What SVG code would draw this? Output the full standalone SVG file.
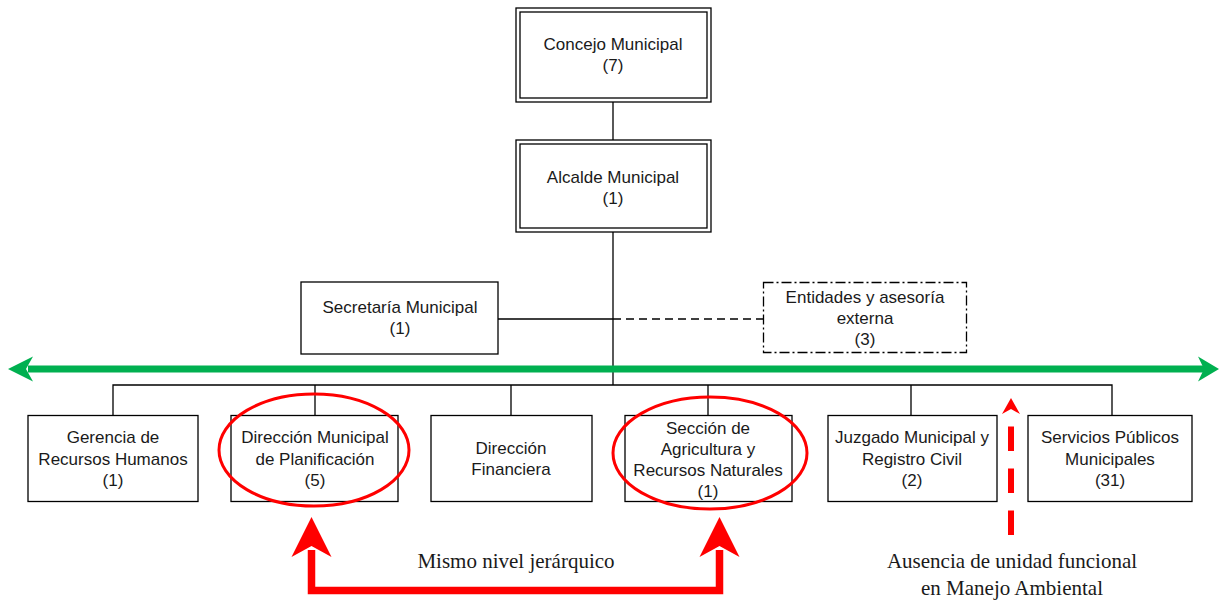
<svg xmlns="http://www.w3.org/2000/svg" width="1220" height="604" viewBox="0 0 1220 604">
<style>
.box{fill:#fff;stroke:#000;stroke-width:1.3}
.t{font-family:"Liberation Sans",Arial,sans-serif;font-size:17px;fill:#1a1a1a;text-anchor:middle}
.s{font-family:"Liberation Serif","Times New Roman",serif;font-size:21px;fill:#1a1a1a;text-anchor:middle}
.ln{stroke:#000;stroke-width:1.3;fill:none}
</style>
<rect width="1220" height="604" fill="#fff"/>
<g id="connectors">
<path class="ln" d="M613,102V140M613,232V385M113,415V385H1112V415M315,385V415M511,385V415M708,385V415M911,385V415M498,319H613"/>
<path class="ln" d="M613,319H763" stroke-dasharray="8 5"/>
</g>
<g id="concejo">
<rect class="box" x="516" y="8" width="195" height="94"/>
<rect class="box" x="520" y="12" width="187" height="86"/>
<text class="t" x="613" y="50">Concejo Municipal</text>
<text class="t" x="613" y="71">(7)</text>
</g>
<g id="alcalde">
<rect class="box" x="516" y="140" width="195" height="92"/>
<rect class="box" x="520" y="144" width="187" height="84"/>
<text class="t" x="613" y="183">Alcalde Municipal</text>
<text class="t" x="613" y="204">(1)</text>
</g>
<g id="secretaria">
<rect class="box" x="301" y="282" width="197" height="72"/>
<text class="t" x="400" y="313">Secretaría Municipal</text>
<text class="t" x="400" y="334">(1)</text>
</g>
<g id="entidades">
<rect x="763.5" y="282.5" width="203" height="70" fill="#fff" stroke="#000" stroke-width="1.3" stroke-dasharray="10 3 2 3"/>
<text class="t" x="865" y="303">Entidades y asesoría</text>
<text class="t" x="865" y="324">externa</text>
<text class="t" x="865" y="345">(3)</text>
</g>
<g id="nivel">
<path d="M28,369H1204" stroke="#00b050" stroke-width="7" fill="none"/>
<polygon points="8,369 33,356.5 26,369 33,381.5" fill="#00b050"/>
<polygon points="1219,369 1198,356.5 1204,369 1198,381.5" fill="#00b050"/>
</g>
<g id="gerencia">
<rect class="box" x="28" y="415.5" width="170" height="86"/>
<text class="t" x="113" y="443">Gerencia de</text>
<text class="t" x="113" y="465">Recursos Humanos</text>
<text class="t" x="113" y="486">(1)</text>
</g>
<g id="planificacion">
<rect class="box" x="231" y="415.5" width="167" height="86"/>
<text class="t" x="315" y="443">Dirección Municipal</text>
<text class="t" x="315" y="465">de Planificación</text>
<text class="t" x="315" y="486">(5)</text>
</g>
<g id="financiera">
<rect class="box" x="431" y="415.5" width="161" height="86"/>
<text class="t" x="511" y="454">Dirección</text>
<text class="t" x="511" y="475">Financiera</text>
</g>
<g id="agricultura">
<rect class="box" x="625" y="415.5" width="167" height="86"/>
<text class="t" x="708" y="434">Sección de</text>
<text class="t" x="708" y="455">Agricultura y</text>
<text class="t" x="708" y="476">Recursos Naturales</text>
<text class="t" x="708" y="497">(1)</text>
</g>
<g id="juzgado">
<rect class="box" x="828" y="415.5" width="169" height="86"/>
<text class="t" x="912" y="443">Juzgado Municipal y</text>
<text class="t" x="912" y="465">Registro Civil</text>
<text class="t" x="912" y="486">(2)</text>
</g>
<g id="servicios">
<rect class="box" x="1028" y="415.5" width="164" height="86"/>
<text class="t" x="1110" y="443">Servicios Públicos</text>
<text class="t" x="1110" y="465">Municipales</text>
<text class="t" x="1110" y="486">(31)</text>
</g>
<g id="highlights" fill="none" stroke="#ff0000" stroke-width="3">
<ellipse cx="314" cy="450" rx="95" ry="56"/>
<ellipse cx="710" cy="453" rx="97" ry="56"/>
</g>
<g id="mismo-nivel">
<path d="M311.5,550V590.5H719.5V550" fill="none" stroke="#ff0000" stroke-width="7.5"/>
<polygon points="311.5,517 291.5,557 311.5,546 331.5,557" fill="#ff0000"/>
<polygon points="719.5,517 699.5,557 719.5,546 739.5,557" fill="#ff0000"/>
<text class="s" x="516" y="568">Mismo nivel jerárquico</text>
</g>
<g id="ausencia">
<path d="M1011,535V426.5" stroke="#ff0000" stroke-width="6" stroke-dasharray="24.5 17.5" fill="none"/>
<polygon points="1011,398 1002,414 1011,409 1020,414" fill="#ff0000"/>
<text class="s" x="1012" y="568">Ausencia de unidad funcional</text>
<text class="s" x="1012" y="595">en Manejo Ambiental</text>
</g>
</svg>
